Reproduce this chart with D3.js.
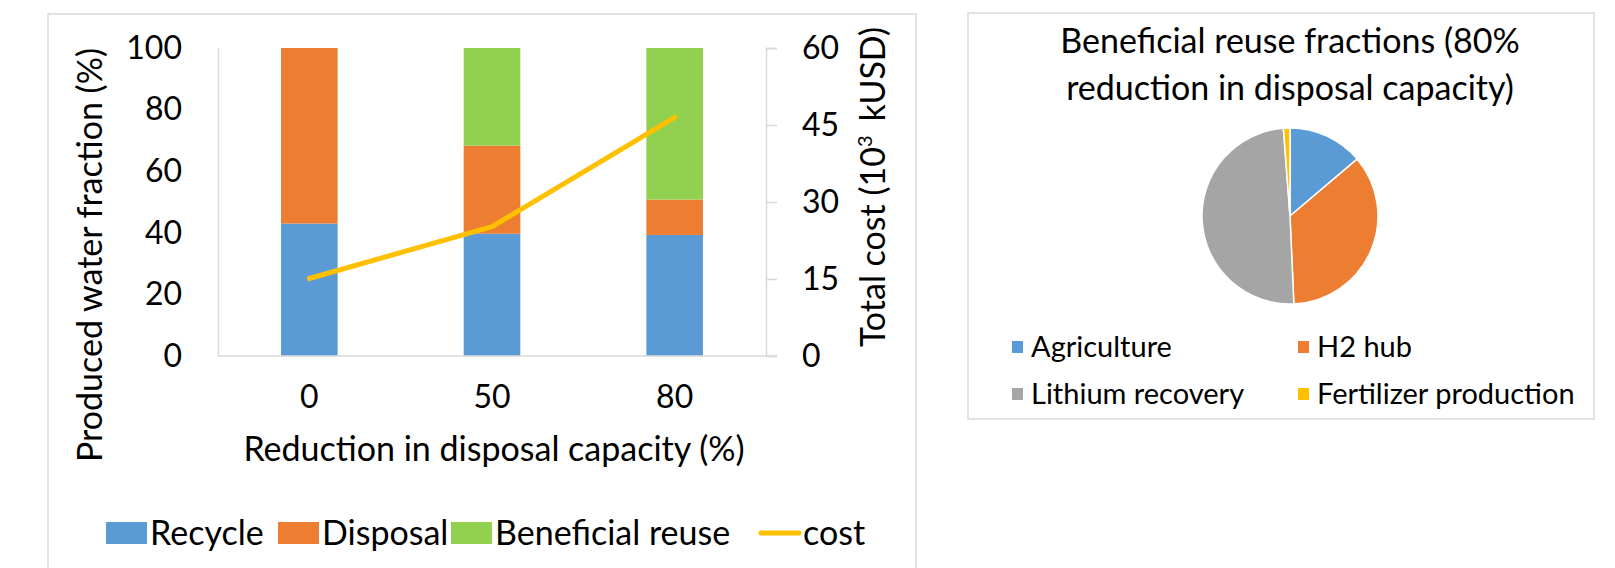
<!DOCTYPE html>
<html>
<head>
<meta charset="utf-8">
<script src="https://cdn.jsdelivr.net/npm/d3@7"></script>
<style>
  html, body { margin: 0; padding: 0; background: #fff; }
  svg { display: block; }
  text { font-family: Lato, "Open Sans", sans-serif; fill: #000; }
</style>
</head>
<body>
<svg id="chart" width="1615" height="568"></svg>
<script>
// Scenarios: reduction in disposal capacity (%)
const categories = ["0", "50", "80"];
// Produced water fractions (%) per scenario
const recycle = [43, 39.7, 39.3];
const disposal = [57, 28.6, 11.5];
const beneficialReuse = [0, 31.7, 49.2];
// Total cost (10^3 kUSD)
const cost = [15.1, 25.2, 46.5];
const seriesNames = ["Recycle", "Disposal", "Beneficial reuse"];
const leftTicks = [0, 20, 40, 60, 80, 100];
const rightTicks = [0, 15, 30, 45, 60];

// Beneficial reuse split at 80% reduction
const reuseLabels = ["Agriculture", "H2 hub", "Lithium recovery", "Fertilizer production"];
const reuseShares = [13.8, 35.5, 49.5, 1.2];

const barColors = ["#5B9BD5", "#ED7D31", "#92D050"];
const pieColors = ["#5B9BD5", "#ED7D31", "#A5A5A5", "#FFC000"];
const costColor = "#FFC000";
const gridGray = "#D9D9D9";

const svg = d3.select("#chart");

// ---------- Left panel: stacked bars + cost line ----------
svg.append("rect").attr("x", 48).attr("y", 14).attr("width", 868).attr("height", 620)
  .attr("fill", "none").attr("stroke", gridGray).attr("stroke-width", 1.5);

const plot = { left: 218, right: 766, top: 48, bottom: 356 };

const x = d3.scaleBand().domain(categories)
  .range([plot.left, plot.right]).paddingInner(0.69).paddingOuter(0.345);
const y = d3.scaleLinear().domain([0, 100]).range([plot.bottom, plot.top]);
const y2 = d3.scaleLinear().domain([0, 60]).range([plot.bottom, plot.top]);

const rows = categories.map((c, i) => ({
  cat: c, "Recycle": recycle[i], "Disposal": disposal[i], "Beneficial reuse": beneficialReuse[i]
}));
const stacked = d3.stack().keys(seriesNames)(rows);

svg.append("g").selectAll("g").data(stacked).join("g")
  .attr("fill", (d, i) => barColors[i])
  .selectAll("rect").data(d => d).join("rect")
  .attr("x", d => x(d.data.cat))
  .attr("width", x.bandwidth())
  .attr("y", d => y(d[1]))
  .attr("height", d => y(d[0]) - y(d[1]));

// Left axis: line only, labels right-aligned
const leftAxis = svg.append("g").attr("transform", `translate(${plot.left},0)`)
  .call(d3.axisLeft(y).tickValues(leftTicks).tickSize(0).tickPadding(36));
leftAxis.select(".domain").attr("stroke", gridGray).attr("stroke-width", 1.5);
leftAxis.selectAll("text").attr("font-size", 32).attr("font-family", "Lato, sans-serif").attr("fill", "#000");

// Right axis with outward ticks
const rightAxis = svg.append("g").attr("transform", `translate(${plot.right},0)`)
  .call(d3.axisRight(y2).tickValues(rightTicks).tickSize(11).tickPadding(25).tickSizeOuter(11));
rightAxis.select(".domain").attr("stroke", gridGray).attr("stroke-width", 1.5);
rightAxis.selectAll(".tick line").attr("stroke", gridGray).attr("stroke-width", 1.5);
rightAxis.selectAll("text").attr("font-size", 32).attr("font-family", "Lato, sans-serif").attr("fill", "#000");

// Baseline
const bottomAxis = svg.append("g").attr("transform", `translate(0,${plot.bottom})`)
  .call(d3.axisBottom(x).tickSize(0).tickPadding(29).tickSizeOuter(0));
bottomAxis.select(".domain").attr("stroke", gridGray).attr("stroke-width", 1.5)
  .attr("d", `M${plot.left},0H${plot.right + 11}`);
bottomAxis.selectAll("text").attr("font-size", 32).attr("font-family", "Lato, sans-serif").attr("fill", "#000");

// Cost line
const costLine = d3.line()
  .x((d, i) => x(categories[i]) + x.bandwidth() / 2)
  .y(d => y2(d));
svg.append("path").datum(cost)
  .attr("d", costLine)
  .attr("fill", "none").attr("stroke", costColor).attr("stroke-width", 5)
  .attr("stroke-linecap", "round").attr("stroke-linejoin", "round");

// Axis titles
svg.append("text")
  .attr("transform", "translate(102,255) rotate(-90)")
  .attr("text-anchor", "middle").attr("font-size", 34)
  .text("Produced water fraction (%)");

const rTitle = svg.append("text")
  .attr("transform", "translate(885,187) rotate(-90)")
  .attr("text-anchor", "middle").attr("font-size", 34);
rTitle.append("tspan").text("Total cost (10");
rTitle.append("tspan").attr("font-size", 20).attr("dy", -13).text("3");
rTitle.append("tspan").attr("dy", 13).attr("dx", 14).text("kUSD)");

svg.append("text")
  .attr("x", (plot.left + plot.right) / 2 + 2).attr("y", 461)
  .attr("text-anchor", "middle").attr("font-size", 34)
  .text("Reduction in disposal capacity (%)");

// Legend
const legend = svg.append("g").attr("transform", "translate(0,533)");
const legendItems = [
  { name: "Recycle", x: 106, type: "box", color: barColors[0] },
  { name: "Disposal", x: 278, type: "box", color: barColors[1] },
  { name: "Beneficial reuse", x: 451, type: "box", color: barColors[2] },
  { name: "cost", x: 759, type: "line", color: costColor }
];
legendItems.forEach(it => {
  if (it.type === "box") {
    legend.append("rect").attr("x", it.x).attr("y", -11).attr("width", 41).attr("height", 22).attr("fill", it.color);
  } else {
    legend.append("line").attr("x1", it.x + 2).attr("x2", it.x + 40).attr("y1", 0).attr("y2", 0)
      .attr("stroke", it.color).attr("stroke-width", 5).attr("stroke-linecap", "round");
  }
  legend.append("text").attr("x", it.x + 44).attr("y", 0).attr("dy", "0.35em")
    .attr("font-size", 34).text(it.name);
});

// ---------- Right panel: pie ----------
svg.append("rect").attr("x", 968).attr("y", 13).attr("width", 626).attr("height", 406)
  .attr("fill", "none").attr("stroke", gridGray).attr("stroke-width", 1.5);

svg.append("text").attr("x", 1290).attr("y", 53).attr("text-anchor", "middle")
  .attr("font-size", 34).text("Beneficial reuse fractions (80%");
svg.append("text").attr("x", 1290).attr("y", 100).attr("text-anchor", "middle")
  .attr("font-size", 34).text("reduction in disposal capacity)");

const pie = d3.pie().sort(null).value(d => d);
const arc = d3.arc().innerRadius(0).outerRadius(88);
svg.append("g").attr("transform", "translate(1290,216)")
  .selectAll("path").data(pie(reuseShares)).join("path")
  .attr("d", arc)
  .attr("fill", (d, i) => pieColors[i])
  .attr("stroke", "#fff").attr("stroke-width", 1.5);

const pieLegendPos = [[1012, 347], [1298, 347], [1012, 394], [1298, 394]];
reuseLabels.forEach((name, i) => {
  const [lx, ly] = pieLegendPos[i];
  svg.append("rect").attr("x", lx).attr("y", ly - 6).attr("width", 11).attr("height", 12).attr("fill", pieColors[i]);
  svg.append("text").attr("x", lx + 19).attr("y", ly).attr("dy", "0.35em")
    .attr("font-size", 29).text(name);
});
</script>
</body>
</html>
